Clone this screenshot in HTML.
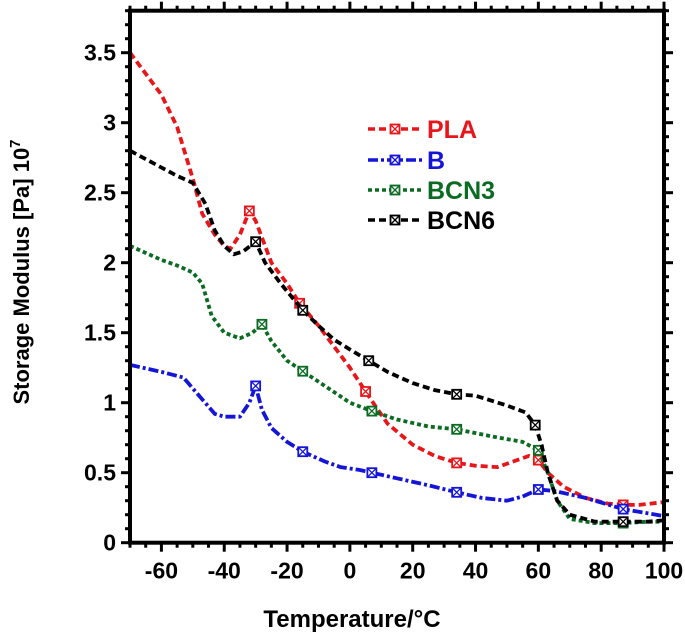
<!DOCTYPE html>
<html><head><meta charset="utf-8"><style>
html,body{margin:0;padding:0;background:#fff;}
svg text{font-family:"Liberation Sans",sans-serif;font-weight:bold;}
</style></head><body>
<svg id="chart" width="685" height="635" xmlns="http://www.w3.org/2000/svg">
<g id="grid"></g><g id="series"></g><g id="axes"></g>
<text x="29" y="272" font-size="22" text-anchor="middle" transform="rotate(-90 29 272)">Storage Modulus [Pa] 10<tspan dy="-9" font-size="15">7</tspan></text>
<text x="352" y="627" font-size="24" text-anchor="middle">Temperature/°C</text>
<g id="legend"></g>
</svg>
<script>
const xTicks=[-60,-40,-20,0,20,40,60,80,100];
const yTicks=[0,0.5,1,1.5,2,2.5,3,3.5];
const yTickLabels=["0","0.5","1","1.5","2","2.5","3","3.5"];
const seriesNames=["PLA","B","BCN3","BCN6"];
const plaX=[-70,-60,-55,-50,-47,-43,-40,-38,-35,-32,-30,-25,-20,-16,-10,-5,0,5,8,12,20,27,34,40,47,52,57,60,63,68,75,82,87,92,100];
const plaY=[3.5,3.2,2.97,2.6,2.35,2.2,2.12,2.1,2.2,2.37,2.3,2.0,1.85,1.71,1.55,1.4,1.25,1.08,0.98,0.85,0.7,0.62,0.57,0.55,0.54,0.58,0.62,0.59,0.5,0.4,0.32,0.28,0.27,0.27,0.29];
const plaM=[-32,-16,5,34,60,87];
const bX=[-70,-60,-53,-48,-43,-40,-35,-32,-30,-28,-25,-20,-15,-8,-3,3,7,15,25,34,42,50,55,60,65,75,87,100];
const bY=[1.27,1.22,1.18,1.05,0.92,0.9,0.9,1.0,1.12,0.95,0.82,0.72,0.65,0.58,0.54,0.52,0.5,0.46,0.41,0.36,0.32,0.3,0.33,0.38,0.37,0.32,0.24,0.19];
const bM=[-30,-15,7,34,60,87];
const c3X=[-70,-60,-55,-50,-47,-44,-40,-35,-31,-28,-25,-20,-14,-8,0,7,15,25,34,45,55,60,63,66,70,78,87,95,100];
const c3Y=[2.12,2.02,1.98,1.93,1.85,1.62,1.5,1.46,1.5,1.56,1.44,1.3,1.21,1.12,1.0,0.94,0.88,0.83,0.81,0.76,0.72,0.66,0.5,0.3,0.17,0.14,0.14,0.15,0.15];
const c3M=[-28,-15,7,34,60,87];
const c6X=[-70,-60,-55,-50,-46,-43,-40,-37,-34,-30,-27,-22,-15,-10,-5,0,6,12,20,27,34,40,50,56,59,61,63,66,70,78,87,95,100];
const c6Y=[2.8,2.68,2.62,2.57,2.42,2.23,2.12,2.06,2.08,2.15,2.0,1.85,1.66,1.55,1.45,1.38,1.3,1.22,1.14,1.09,1.06,1.05,0.98,0.93,0.84,0.7,0.5,0.3,0.2,0.15,0.15,0.15,0.16];
const c6M=[-30,-15,6,34,59,87];

const NS="http://www.w3.org/2000/svg";
const X0=130,X1=664,Y0=542.7,YPU=140;
const xs=v=>X0+(v+70)/170*(X1-X0);
const ys=v=>Y0-v*YPU;
const YTOP=ys(3.8);
function mk(tag,attrs,parent){const e=document.createElementNS(NS,tag);for(const k in attrs)e.setAttribute(k,attrs[k]);parent.appendChild(e);return e;}
const axes=document.getElementById('axes');
const frame=mk('rect',{x:X0,y:YTOP,width:X1-X0,height:Y0-YTOP,fill:'none',stroke:'#000','stroke-width':4},axes);


for(let v=-70;v<=100;v+=5){const maj=v%20===0;const L=maj?9:5;
 const t1=mk('line',{x1:xs(v),x2:xs(v),y1:Y0,y2:Y0+L,stroke:'#000','stroke-width':3},axes);
 
 const t2=mk('line',{x1:xs(v),x2:xs(v),y1:YTOP,y2:YTOP-L,stroke:'#000','stroke-width':3},axes);
 }
xTicks.forEach(v=>{const t=mk('text',{x:xs(v),y:Y0+36,'font-size':23,'text-anchor':'middle'},axes);t.textContent=String(v);
 });
for(let i=0;i<=38;i++){const v=i/10;const maj=i%5===0;const L=maj?9:5;
 const t1=mk('line',{x1:X0,x2:X0-L,y1:ys(v),y2:ys(v),stroke:'#000','stroke-width':3},axes);
 
 const t2=mk('line',{x1:X1,x2:X1+L,y1:ys(v),y2:ys(v),stroke:'#000','stroke-width':3},axes);
 }
yTicks.forEach((v,i)=>{const t=mk('text',{x:X0-14,y:ys(v)+8,'font-size':23,'text-anchor':'end'},axes);t.textContent=yTickLabels[i];
 });

function interp(X,Y,x){for(let i=0;i<X.length-1;i++){if(x>=X[i]&&x<=X[i+1]){return Y[i]+(Y[i+1]-Y[i])*(x-X[i])/(X[i+1]-X[i]);}}return Y[Y.length-1];}
const styles=[{c:'#e8161b',d:'7,4'},{c:'#1515d8',d:'10,3,3,3'},{c:'#0b6b22',d:'4,3'},{c:'#000',d:'7,4'}];
const sets=[[plaX,plaY,plaM],[bX,bY,bM],[c3X,c3Y,c3M],[c6X,c6Y,c6M]];
const sg=document.getElementById('series');
function marker(g,x,y,c){
 const m=mk('g',{},g);
 mk('rect',{x:x-4.5,y:y-4.5,width:9,height:9,fill:'#fff',stroke:c,'stroke-width':1.8},m);
 mk('path',{d:`M${x-4.5},${y-4.5}L${x+4.5},${y+4.5}M${x+4.5},${y-4.5}L${x-4.5},${y+4.5}`,stroke:c,'stroke-width':1.3},m);
}
sets.forEach((s,k)=>{const g=mk('g',{},sg);
 
 
 const pts=s[0].map((x,i)=>xs(x).toFixed(1)+','+ys(s[1][i]).toFixed(1)).join(' ');
 const pl=mk('polyline',{points:pts,fill:'none',stroke:styles[k].c,'stroke-width':3.8,'stroke-dasharray':styles[k].d,'stroke-linejoin':'round'},g);
 
 s[2].forEach(mx=>marker(g,xs(mx),ys(interp(s[0],s[1],mx)),styles[k].c));
});
const lg=document.getElementById('legend');

const ly=[129,160,190,220];
seriesNames.forEach((n,k)=>{const g=mk('g',{},lg);
 
 
 mk('line',{x1:368,x2:422,y1:ly[k],y2:ly[k],stroke:styles[k].c,'stroke-width':3.5,'stroke-dasharray':styles[k].d},g);
 marker(g,395,ly[k],styles[k].c);
 const t=mk('text',{x:427,y:ly[k]+9,'font-size':25,fill:styles[k].c},g);t.textContent=n;
});
</script>
</body></html>
